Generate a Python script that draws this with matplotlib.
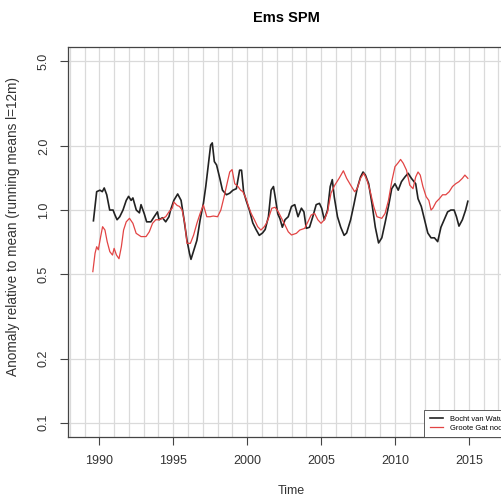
import matplotlib
matplotlib.use("Agg")
import matplotlib.pyplot as plt

plt.rcParams['font.family'] = ['Liberation Sans', 'DejaVu Sans']

# Bocht van Watum (black)
years_watum = [1989.60, 1989.82, 1990.04, 1990.20, 1990.33, 1990.50, 1990.70, 1990.93, 1991.05,
               1991.20, 1991.38, 1991.60, 1991.82, 1991.98, 1992.15, 1992.27, 1992.50, 1992.71,
               1992.82, 1993.04, 1993.20, 1993.49, 1993.71, 1993.93, 1994.04, 1994.27, 1994.49,
               1994.71, 1994.82, 1995.04, 1995.30, 1995.53, 1995.70, 1995.93, 1996.10, 1996.20,
               1996.37, 1996.60, 1996.82, 1997.04, 1997.20, 1997.37, 1997.53, 1997.64, 1997.78,
               1997.93, 1998.15, 1998.33, 1998.60, 1998.82, 1999.04, 1999.27, 1999.49, 1999.62,
               1999.76, 1999.93, 2000.15, 2000.38, 2000.60, 2000.82, 2001.04, 2001.22, 2001.44,
               2001.62, 2001.78, 2001.89, 2002.07, 2002.22, 2002.38, 2002.56, 2002.78, 2003.00,
               2003.22, 2003.44, 2003.67, 2003.84, 2004.00, 2004.22, 2004.44, 2004.67, 2004.89,
               2005.04, 2005.22, 2005.44, 2005.62, 2005.76, 2005.89, 2006.11, 2006.33, 2006.56,
               2006.73, 2007.00, 2007.22, 2007.44, 2007.67, 2007.84, 2008.00, 2008.22, 2008.44,
               2008.67, 2008.89, 2009.11, 2009.33, 2009.56, 2009.78, 2010.00, 2010.22, 2010.44,
               2010.67, 2010.89, 2011.11, 2011.40, 2011.56, 2011.78, 2012.00, 2012.22, 2012.44,
               2012.67, 2012.89, 2013.11, 2013.33, 2013.56, 2013.78, 2014.00, 2014.16, 2014.33,
               2014.56, 2014.78, 2014.93]
watum = [0.89, 1.22, 1.24, 1.22, 1.27, 1.18, 1.00, 1.00, 0.95,
         0.90, 0.93, 1.00, 1.11, 1.16, 1.11, 1.14, 1.00, 0.97,
         1.06, 0.96, 0.88, 0.88, 0.93, 0.98, 0.90, 0.92, 0.88,
         0.93, 1.00, 1.11, 1.19, 1.11, 0.93, 0.72, 0.625, 0.586,
         0.64, 0.72, 0.90, 1.075, 1.29, 1.63, 2.02, 2.07, 1.69,
         1.63, 1.41, 1.24, 1.18, 1.20, 1.24, 1.26, 1.54, 1.54,
         1.22, 1.11, 1.00, 0.87, 0.81, 0.76, 0.78, 0.81, 0.93,
         1.24, 1.29, 1.16, 0.96, 0.91, 0.83, 0.90, 0.93, 1.04,
         1.06, 0.93, 1.02, 0.98, 0.82, 0.83, 0.93, 1.06, 1.075,
         1.02, 0.90, 1.00, 1.29, 1.39, 1.155, 0.93, 0.83, 0.76,
         0.78, 0.90, 1.06, 1.26, 1.43, 1.51, 1.46, 1.33, 1.075,
         0.83, 0.70, 0.74, 0.87, 1.04, 1.26, 1.33, 1.24, 1.36,
         1.43, 1.49, 1.41, 1.33, 1.13, 1.04, 0.90, 0.78, 0.74,
         0.74, 0.71, 0.83, 0.90, 0.98, 1.00, 1.00, 0.93, 0.84,
         0.90, 1.00, 1.10]

# Groote Gat noord (red)
years_groote = [1989.56, 1989.71, 1989.82, 1989.93, 1990.09, 1990.22, 1990.38, 1990.53, 1990.71,
                1990.89, 1991.00, 1991.16, 1991.33, 1991.49, 1991.64, 1991.82, 1992.04, 1992.27,
                1992.49, 1992.82, 1993.16, 1993.38, 1993.60, 1993.82, 1994.04, 1994.27, 1994.49,
                1994.71, 1994.93, 1995.04, 1995.27, 1995.42, 1995.60, 1995.78, 1995.93, 1996.16,
                1996.38, 1996.60, 1996.82, 1997.04, 1997.27, 1997.49, 1997.71, 1998.00, 1998.22,
                1998.44, 1998.67, 1998.82, 1998.98, 1999.16, 1999.38, 1999.56, 1999.71, 1999.93,
                2000.09, 2000.27, 2000.49, 2000.71, 2000.93, 2001.16, 2001.30, 2001.44, 2001.67,
                2001.89, 2002.11, 2002.33, 2002.56, 2002.78, 2003.00, 2003.33, 2003.56, 2003.89,
                2004.11, 2004.33, 2004.56, 2004.78, 2005.00, 2005.22, 2005.44, 2005.67, 2005.93,
                2006.22, 2006.51, 2006.73, 2007.00, 2007.27, 2007.44, 2007.67, 2007.89, 2008.11,
                2008.33, 2008.56, 2008.78, 2009.11, 2009.33, 2009.56, 2009.78, 2010.00, 2010.22,
                2010.38, 2010.56, 2010.78, 2011.00, 2011.22, 2011.40, 2011.56, 2011.71, 2011.89,
                2012.11, 2012.29, 2012.44, 2012.56, 2012.78, 2013.00, 2013.22, 2013.44, 2013.67,
                2013.89, 2014.11, 2014.33, 2014.56, 2014.73, 2014.93]
groote = [0.513, 0.626, 0.672, 0.65, 0.75, 0.835, 0.805, 0.71, 0.637,
          0.614, 0.66, 0.614, 0.59, 0.672, 0.805, 0.88, 0.914, 0.866,
          0.777, 0.75, 0.75, 0.79, 0.866, 0.90, 0.90, 0.914, 0.93,
          0.98, 1.02, 1.09, 1.05, 1.04, 1.00, 0.866, 0.697, 0.697,
          0.763, 0.866, 0.964, 1.055, 0.93, 0.93, 0.937, 0.93, 1.00,
          1.155, 1.36, 1.51, 1.55, 1.33, 1.29, 1.24, 1.22, 1.13,
          1.04, 0.964, 0.90, 0.835, 0.805, 0.835, 0.866, 0.914, 1.02,
          1.03, 0.98, 0.914, 0.85, 0.79, 0.763, 0.777, 0.805, 0.82,
          0.88, 0.947, 0.964, 0.90, 0.866, 0.90, 0.98, 1.20, 1.31,
          1.41, 1.53, 1.41, 1.31, 1.22, 1.26, 1.41, 1.49, 1.38,
          1.22, 1.04, 0.93, 0.914, 0.964, 1.11, 1.36, 1.60, 1.67,
          1.73, 1.66, 1.54, 1.31, 1.26, 1.43, 1.51, 1.46, 1.29,
          1.155, 1.11, 1.00, 1.02, 1.09, 1.13, 1.18, 1.18, 1.22,
          1.29, 1.33, 1.36, 1.41, 1.46, 1.41]

x_ticks = [1990, 1995, 2000, 2005, 2010, 2015]
y_ticks = [0.1, 0.2, 0.5, 1.0, 2.0, 5.0]
y_tick_labels = ["0.1", "0.2", "0.5", "1.0", "2.0", "5.0"]

fig = plt.figure(figsize=(5.01, 4.97), dpi=100)
# plot box runs past the right edge of the picture, like the reference
ax = fig.add_axes([68 / 501, 60 / 497, 447 / 501, 390 / 497])

ax.set_yscale("log")
ax.set_xlim(1987.88, 2018.12)
ax.set_ylim(0.0855, 5.85)

# R style grid: every year vertically, at the ticks horizontally
for yr in range(1988, 2019):
    ax.axvline(yr, color="#dadada", lw=0.9, zorder=0)
for yv in y_ticks:
    ax.axhline(yv, color="#dadada", lw=0.9, zorder=0)

ax.plot(years_watum, watum, color="#222222", lw=1.2, label="Bocht van Watum")
ax.plot(years_groote, groote, color="#e24444", lw=0.9, label="Groote Gat noord")

ax.set_xticks(x_ticks)
ax.set_xticklabels([str(t) for t in x_ticks])
ax.set_yticks(y_ticks)
ax.set_yticklabels(y_tick_labels, rotation=90, va="center")
ax.minorticks_off()
ax.tick_params(axis="both", direction="out", length=6, width=0.8, color="#444444",
               labelsize=9, labelcolor="#333333", pad=7)

for s in ax.spines.values():
    s.set_color("#444444")
    s.set_linewidth(0.9)

ax.set_title("Ems SPM", fontsize=10.5, fontweight="bold", pad=18, x=(286 - 68) / 447)
ax.set_xlabel("Time", fontsize=9, color="#333333", labelpad=13)
ax.set_ylabel("Anomaly relative to mean (running means l=12m)", fontsize=9.8,
              color="#333333")
ax.yaxis.set_label_coords(-0.108, (437 - 226) / 390)

leg = ax.legend(loc="lower right", bbox_to_anchor=(1.0, 0.0), borderaxespad=0,
                fontsize=5.4, fancybox=False, framealpha=1, handlelength=1.8,
                handletextpad=1.0, borderpad=0.7, labelspacing=0.25)
leg.get_frame().set_edgecolor("#444444")
leg.get_frame().set_linewidth(0.6)

fig.savefig("out.png", dpi=100)
